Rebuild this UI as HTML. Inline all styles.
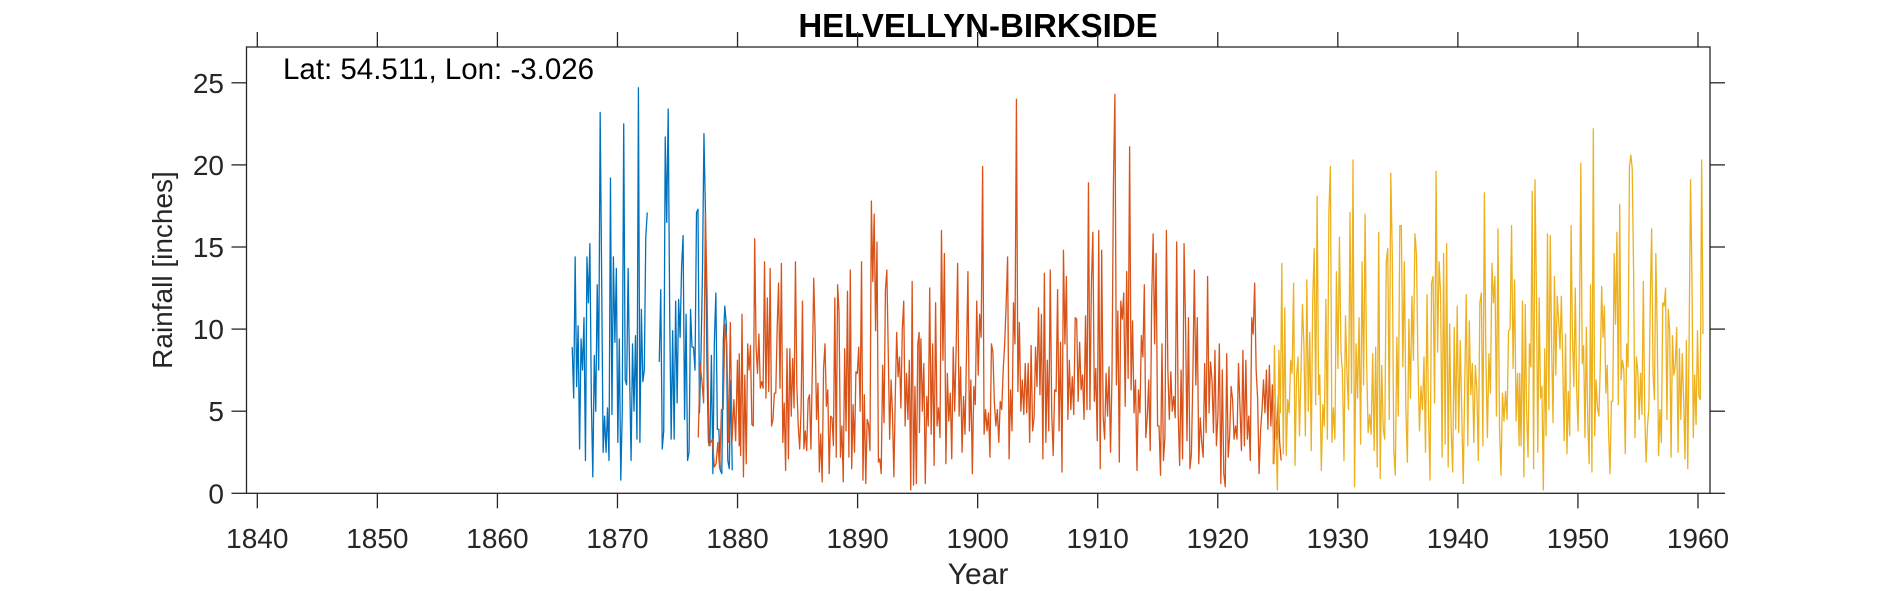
<!DOCTYPE html>
<html><head><meta charset="utf-8"><style>
html,body{margin:0;padding:0;background:#fff;}
svg{display:block;font-family:"Liberation Sans",Arial,sans-serif;}
</style></head><body>
<svg id="chart" width="1890" height="591" viewBox="0 0 1890 591" xmlns="http://www.w3.org/2000/svg">
<rect x="0" y="0" width="1890" height="591" fill="#fff"/>
<text x="978" y="37" text-anchor="middle" font-size="33" font-weight="bold" fill="#000">HELVELLYN-BIRKSIDE</text>
<g id="series"></g>
<g id="axes"></g>
<text x="283" y="79" font-size="29.5" fill="#000">Lat: 54.511, Lon: -3.026</text>
<text x="978" y="584" text-anchor="middle" font-size="30" fill="#262626">Year</text>
<text x="0" y="0" transform="translate(172,270) rotate(-90)" text-anchor="middle" font-size="28" fill="#262626">Rainfall [inches]</text>
</svg>
<script>
const xTicks = [1840,1850,1860,1870,1880,1890,1900,1910,1920,1930,1940,1950,1960];
const yTicks = [0,5,10,15,20,25];
const xDomain = [1839.1, 1961];
const yDomain = [0, 27.18];

const blue1Span = [1866.23, 1872.48];
const blue1 = [8.9,5.8,14.4,6.5,10.2,2.7,9.4,7.5,10.7,2.0,14.4,11.6,15.2,5.7,1.0,8.4,5.0,12.7,7.5,23.2,13.2,2.5,4.7,2.5,5.2,2.0,19.2,4.8,14.4,9.2,13.7,3.1,9.4,0.8,4.9,22.5,6.9,6.6,13.7,7.3,2.0,9.1,5.0,9.6,3.3,24.7,3.1,11.2,6.8,7.5,15.6,17.1];
const blue2Span = [1873.48, 1879.56];
const blue2 = [8.0,12.4,2.7,3.8,21.7,16.5,23.4,10.9,3.3,9.9,3.3,11.7,5.5,11.8,9.5,13.8,15.7,4.5,10.9,2.0,2.5,11.2,8.9,8.9,7.5,17.1,17.3,4.9,8.4,13.4,21.9,17.1,7.9,3.1,2.9,8.4,1.2,9.3,12.2,3.9,3.9,1.4,1.2,9.3,11.4,10.3,2.0,1.5,6.9,1.4];

const orangeSpans = [[1876.73,1880.14],[1880.14,1895.13],[1895.15,1911.8],[1911.8,1925.28]];
const orange1 = [3.4,7.9,6.9,5.5,17.1,11.8,2.9,3.1,3.3,1.6,1.8,3.1,1.5,5.1,5.1,10.3,9.1,3.1,10.4,3.2,5.7,3.2,8.1,2.9];
const orange2 = [8.5,2.3,10.9,1.0,7.2,1.8,9.1,7.5,9.0,4.2,4.1,15.5,8.9,7.3,9.7,6.4,6.8,6.4,14.1,5.8,11.9,6.2,13.7,4.1,4.5,6.1,6.1,10.1,12.8,6.4,14.0,3.1,5.5,1.4,8.8,2.1,8.8,4.7,8.2,5.2,14.1,6.5,4.1,2.7,5.1,11.7,2.7,3.8,2.6,5.7,6.0,2.7,7.6,13.1,9.7,4.5,6.7,1.3,3.6,0.7,7.6,9.1,5.3,6.3,1.2,4.7,4.6,2.9,11.9,2.2,12.7,11.0,2.2,4.1,0.7,8.8,3.8,12.3,2.2,13.6,1.5,5.4,2.5,7.4,7.3,8.9,5.0,14.1,0.8,6.0,0.6,4.5,4.2,2.6,17.8,12.9,17.0,9.9,15.3,1.9,2.1,1.2,7.8,4.3,12.4,13.6,8.6,3.3,6.9,4.9,1.0,5.9,9.8,7.1,8.3,5.2,10.0,11.7,4.1,7.3,4.5,8.1,0.2,12.9,0.5,6.5,0.6,9.1,9.8];
const orange3 = [3.7,9.4,5.0,7.9,0.6,5.9,4.1,12.5,3.6,9.1,1.7,11.6,4.1,5.2,3.4,16.0,8.1,14.6,1.8,7.3,4.4,6.1,2.1,8.9,5.0,8.9,14.0,4.7,7.7,2.5,5.9,3.6,8.3,13.5,3.8,6.9,1.2,6.5,5.4,11.7,7.2,10.9,9.5,19.9,3.6,5.1,3.8,4.9,2.2,9.1,8.6,5.5,4.1,5.1,3.1,5.6,5.1,7.5,9.1,11.5,14.4,2.1,6.3,3.8,11.6,9.1,24.0,6.2,10.4,5.0,6.9,4.8,7.9,4.9,7.9,3.1,9.0,3.8,4.6,8.9,6.5,11.3,6.0,10.9,2.1,13.4,3.1,8.1,3.8,13.6,4.9,2.3,6.3,6.2,12.4,3.8,9.2,1.3,14.8,9.1,13.2,4.5,8.1,5.1,7.1,4.8,10.7,10.6,5.6,9.2,6.3,7.2,4.5,10.8,5.1,18.9,5.1,12.7,15.9,5.6,7.6,3.2,16.0,1.5,14.8,4.7,3.3,7.3,4.7,7.7,2.5,7.1,18.9,24.3,6.6,11.1,1.9];
const orange4 = [2.0,11.7,10.6,12.2,5.3,13.5,7.0,21.1,6.3,10.5,4.9,6.9,1.4,6.3,4.9,9.6,8.3,12.7,3.4,4.6,6.9,2.6,11.8,15.8,9.1,14.6,4.1,4.1,1.1,9.1,2.0,3.4,16.0,7.5,4.5,7.4,5.0,5.9,4.6,15.3,4.9,1.7,7.5,2.1,15.2,10.4,3.2,10.7,1.5,2.4,7.2,13.6,6.6,10.7,1.8,4.6,3.1,2.2,7.9,3.7,13.2,4.9,8.0,6.9,3.7,8.7,2.9,4.7,9.1,0.6,7.5,1.2,0.4,8.5,2.2,3.5,6.5,5.7,3.3,4.1,3.3,7.9,5.3,2.6,8.7,2.9,8.1,3.3,4.7,2.0,10.7,9.7,12.8,7.5,5.8,1.2,3.8,5.1,6.9,4.9,7.5,3.9,7.8,4.1,6.6,1.8,5.5,3.3,5.9,3.1,2.0];

const yellowSpans = [[1924.6,1928.4],[1928.5,1945.1],[1945.15,1960.42]];
const yellow1 = [1.8,9.0,3.7,0.2,8.7,4.9,14.0,2.4,11.3,2.3,5.7,4.9,8.1,7.3,12.8,1.7,7.1,8.3,3.5,7.3,11.5,9.1,3.5,13.0,5.0,9.8,2.6,11.8,14.9,5.4,18.1,6.0];
const yellow2 = [7.2,1.4,5.4,4.1,11.8,3.3,17.1,19.9,3.1,5.2,3.3,13.5,7.6,15.6,8.7,7.3,2.0,10.8,7.3,5.1,17.1,6.1,20.3,0.4,9.1,5.8,10.7,3.0,14.1,6.6,17.0,7.9,3.7,4.8,3.6,8.5,2.6,8.9,1.6,15.9,0.9,7.8,3.9,3.3,14.1,14.9,4.5,19.5,14.6,2.6,1.1,9.5,4.7,16.3,16.3,7.7,14.1,5.1,1.9,10.6,5.8,12.0,8.1,15.8,14.6,7.9,3.8,6.5,5.1,8.3,2.5,12.1,4.8,0.8,12.8,13.2,5.5,19.6,8.6,14.1,12.2,2.2,14.6,3.0,15.2,1.6,10.3,3.9,1.3,10.1,3.9,11.4,3.7,9.3,4.9,0.6,6.8,12.1,2.9,10.5,6.0,7.9,3.1,7.8,6.3,2.0,11.6,12.2,2.9,18.3,8.3,3.4,8.5,6.1,14.0,11.6,13.2,4.7,16.1,4.1,1.1,6.1,4.4,6.2,4.5,9.9,10.0,16.3,7.6,13.0,4.4,7.3,2.9];
const yellow3 = [7.3,2.9,11.7,1.0,11.5,4.9,2.2,9.1,7.7,18.4,1.5,19.1,12.6,2.5,11.9,5.8,6.5,0.2,8.8,3.5,15.8,5.1,15.7,8.9,4.3,13.2,7.2,12.0,10.6,8.8,12.0,7.9,3.2,9.7,2.4,6.2,3.5,16.3,9.5,6.5,12.5,6.4,3.8,9.7,20.1,7.9,9.0,3.4,10.1,4.3,1.8,12.7,1.3,22.2,3.5,6.9,5.2,4.7,7.7,12.6,9.5,11.4,6.1,7.8,3.7,1.2,5.6,5.6,14.6,10.3,15.9,5.4,17.6,6.9,8.1,7.5,2.4,9.1,7.7,19.9,20.6,19.8,13.6,3.4,8.3,7.5,4.5,7.3,4.8,12.9,4.9,1.9,4.1,5.2,11.7,16.1,7.3,5.7,14.6,9.9,2.3,5.1,3.1,11.6,11.4,12.5,4.5,11.2,9.9,2.2,9.6,7.2,7.8,10.1,2.5,8.8,4.5,8.5,5.9,2.1,9.3,1.5,9.7,19.1,13.2,3.4,7.2,4.2,9.9,5.9,5.7,20.3,9.7];

const PL = 246.5, PR = 1710, PT = 47, PB = 493.3;
function xScale(t){ return PL + (t - xDomain[0]) / (xDomain[1] - xDomain[0]) * (PR - PL); }
function yScale(v){ return PB - (v - yDomain[0]) / (yDomain[1] - yDomain[0]) * (PB - PT); }
const NS = 'http://www.w3.org/2000/svg';

function chunkPoints(span, vals){
  const pts = [];
  const n = vals.length;
  for (let i = 0; i < n; i++) {
    const t = span[0] + (span[1] - span[0]) * i / (n - 1);
    pts.push(xScale(t).toFixed(2) + ',' + yScale(vals[i]).toFixed(2));
  }
  return pts;
}

const seriesG = document.getElementById('series');
function drawLine(points, color, name){
  const pl = document.createElementNS(NS, 'polyline');
  pl.setAttribute('points', points.join(' '));
  pl.setAttribute('fill', 'none');
  pl.setAttribute('stroke', color);
  pl.setAttribute('stroke-width', '1.3');
  pl.setAttribute('stroke-linejoin', 'round');
  
  
  seriesG.appendChild(pl);
}
drawLine(chunkPoints(blue1Span, blue1), '#0072BD', 'series-blue-part1');
drawLine(chunkPoints(blue2Span, blue2), '#0072BD', 'series-blue-part2');
const oVals = [orange1, orange2, orange3, orange4];
let oPts = [];
oVals.forEach((v, i) => { oPts = oPts.concat(chunkPoints(orangeSpans[i], v)); });
drawLine(oPts, '#D95319', 'series-orange');
const yVals = [yellow1, yellow2, yellow3];
let yPts = [];
yVals.forEach((v, i) => { yPts = yPts.concat(chunkPoints(yellowSpans[i], v)); });
drawLine(yPts, '#EDB120', 'series-yellow');

const axesG = document.getElementById('axes');
function el(tag, attrs){
  const e = document.createElementNS(NS, tag);
  for (const k in attrs) e.setAttribute(k, attrs[k]);
  return e;
}
const box = el('rect', {x: PL, y: PT, width: PR - PL, height: PB - PT, fill: 'none', stroke: '#262626', 'stroke-width': 1.3});


axesG.appendChild(box);

xTicks.forEach(t => {
  const x = xScale(t);
  const b = el('line', {x1: x, x2: x, y1: PB, y2: PB + 15, stroke: '#262626', 'stroke-width': 1.3});
  
  
  axesG.appendChild(b);
  const tp = el('line', {x1: x, x2: x, y1: PT, y2: PT - 15, stroke: '#262626', 'stroke-width': 1.3});
  
  
  axesG.appendChild(tp);
  const lb = el('text', {x: x, y: 548, 'text-anchor': 'middle', 'font-size': 28, fill: '#262626'});
  lb.textContent = String(t);
  
  
  axesG.appendChild(lb);
});
yTicks.forEach(v => {
  const y = yScale(v);
  const l = el('line', {x1: PL, x2: PL - 15, y1: y, y2: y, stroke: '#262626', 'stroke-width': 1.3});
  
  
  axesG.appendChild(l);
  const r = el('line', {x1: PR, x2: PR + 15, y1: y, y2: y, stroke: '#262626', 'stroke-width': 1.3});
  
  
  axesG.appendChild(r);
  const lb = el('text', {x: 224, y: y + 10, 'text-anchor': 'end', 'font-size': 28, fill: '#262626'});
  lb.textContent = String(v);
  
  
  axesG.appendChild(lb);
});
</script>
</body></html>
